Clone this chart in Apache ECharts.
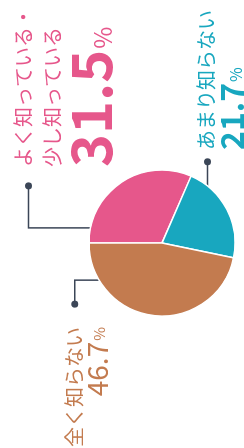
<!DOCTYPE html>
<html>
<head>
<meta charset="utf-8">
<script src="https://cdn.jsdelivr.net/npm/echarts@6/dist/echarts.min.js"></script>
<style>
  html, body { margin: 0; padding: 0; background: #fff; overflow: hidden; }
  /* the chart is laid out landscape and turned a quarter turn left */
  #chart {
    position: absolute; left: 0; top: 0;
    width: 448px; height: 244px;
    transform-origin: 0 0;
    transform: translate(0, 448px) rotate(-90deg);
  }
</style>
</head>
<body>
<div id="chart"></div>
<script>
// survey answers, in drawing order (clockwise from 12 o'clock in the landscape frame)
const categories = ['よく知っている・少し知っている', 'あまり知らない', '全く知らない'];
const labelLines = [['よく知っている・', '少し知っている'], ['あまり知らない'], ['全く知らない']];
const percents = [31.5, 21.7, 46.7];
const colors = ['#e6578b', '#18a7bf', '#c37b4f'];

const chart = echarts.init(document.getElementById('chart'));

const CX = 205, CY = 162, R = 73;
const lineColor = '#3b4657';
const FONT = '"Noto Sans CJK JP", "Noto Sans", sans-serif';

// where each callout starts inside its slice, and how it runs out
const callouts = [
  { angle: 72, r: 0.67, steps: [[0, -87], [42, 0]] },
  { angle: -63, r: 0.70, steps: [[58, 0]] },
  { angle: 148, r: 0.60, steps: [[0, -64], [-24, 0]] }
];

// text block anchors
const blocks = [
  { x: 281, y: 9, align: 'left', big: 56, pct: 24, lh: 29, bigLh: 52, weight: 'bold' },
  { x: 298, y: 194, align: 'left', big: 32, pct: 16, lh: 24, bigLh: 30, weight: 'bold' },
  { x: 121, y: 63, align: 'right', big: 28, pct: 15, lh: 22, bigLh: 26, weight: 'normal' }
];

const graphics = [];

callouts.forEach(function (c) {
  const a = c.angle * Math.PI / 180;
  let p = [CX + Math.cos(a) * R * c.r, CY - Math.sin(a) * R * c.r];
  const pts = [p.slice()];
  c.steps.forEach(function (s) {
    p = [p[0] + s[0], p[1] + s[1]];
    pts.push(p.slice());
  });
  graphics.push({
    type: 'polyline', silent: true,
    shape: { points: pts },
    style: { stroke: lineColor, lineWidth: 1.5, fill: null }
  });
  [pts[0], pts[pts.length - 1]].forEach(function (q) {
    graphics.push({
      type: 'circle', silent: true,
      shape: { cx: q[0], cy: q[1], r: 3.5 },
      style: { fill: lineColor }
    });
  });
});

blocks.forEach(function (b, i) {
  const col = colors[i];
  const rich = {
    t: { fontSize: 20, lineHeight: b.lh, fontFamily: FONT, fill: col, align: b.align },
    n: { fontSize: b.big, lineHeight: b.bigLh, fontWeight: b.weight, fontFamily: FONT, fill: col, align: b.align, verticalAlign: 'bottom' },
    p: { fontSize: b.pct, lineHeight: b.pct, fontFamily: FONT, fill: col, align: b.align, verticalAlign: 'bottom', padding: [0, 0, 4, 1] }
  };
  const text = labelLines[i].map(function (s) { return '{t|' + s + '}'; }).join('\n') +
    '\n{n|' + percents[i].toFixed(1) + '}{p|%}';
  graphics.push({
    type: 'text', silent: true,
    x: b.x, y: b.y,
    style: { text: text, rich: rich, align: b.align, verticalAlign: 'top', fill: col }
  });
});

const option = {
  animation: false,
  backgroundColor: '#fff',
  series: [{
    type: 'pie',
    center: [CX, CY],
    radius: R,
    startAngle: 90,
    clockwise: true,
    silent: true,
    label: { show: false },
    labelLine: { show: false },
    itemStyle: { borderColor: '#fff', borderWidth: 1.5 },
    data: categories.map(function (name, i) {
      return { name: name, value: percents[i], itemStyle: { color: colors[i] } };
    })
  }],
  graphic: graphics
};

chart.setOption(option);
</script>
</body>
</html>
